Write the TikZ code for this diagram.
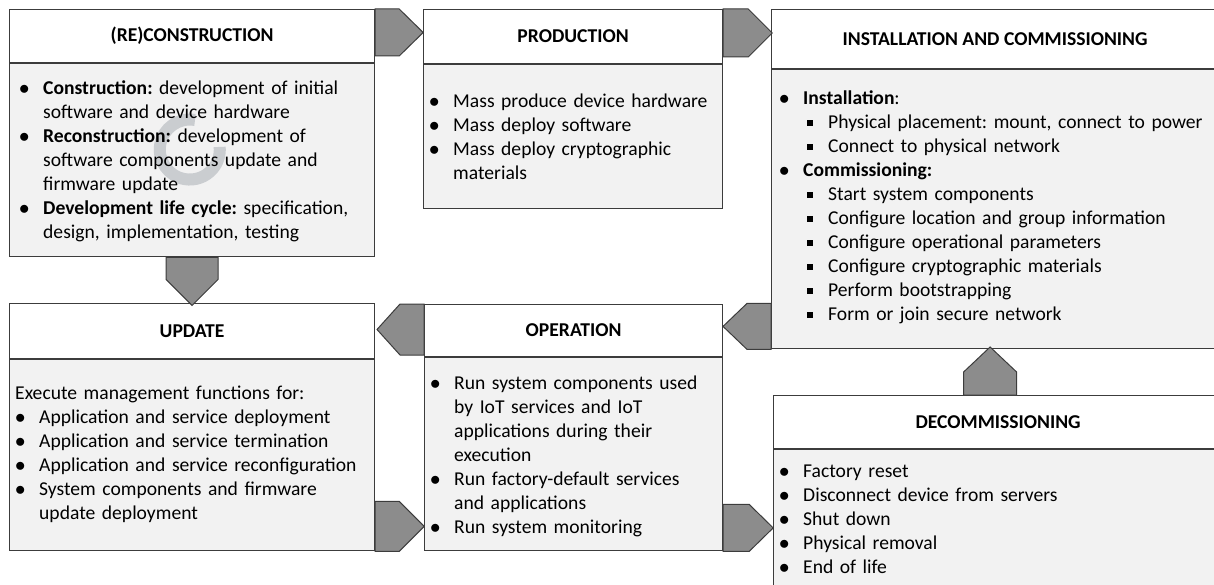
\documentclass[tikz,border=0pt]{standalone}
\usepackage{fontspec}
\setmainfont{Carlito}
\usepackage{enumitem}
\usetikzlibrary{positioning}

\definecolor{boxline}{HTML}{3C3C3C}
\definecolor{bodyfill}{HTML}{F2F2F2}
\definecolor{chevfill}{HTML}{8C8C8C}
\definecolor{wmark}{HTML}{CACDD0}

\frenchspacing
% bullets as in the stage boxes
\setlist[itemize,1]{nosep,label=$\bullet$,leftmargin=24pt,labelindent=0pt,labelwidth=24pt,labelsep=0pt,align=left}
\setlist[itemize,2]{nosep,label=\raisebox{0.3ex}{\rule{5.5pt}{5.5pt}},leftmargin=25pt,labelindent=4pt,labelwidth=21pt,labelsep=0pt,align=left}

\begin{document}
\begin{tikzpicture}[x=1pt,y=1pt,
  head/.style={draw=boxline,line width=1.2pt,fill=white,anchor=north west,inner sep=0pt,
    font=\fontsize{19.6pt}{24pt}\selectfont\bfseries},
  body/.style={draw=boxline,line width=1.2pt,fill=bodyfill,inner sep=0pt},
  txt/.style={anchor=north west,inner sep=0pt,align=left,
    font=\fontsize{19.6pt}{24pt}\selectfont},
  chev/.style={draw=boxline,line width=1pt,fill=chevfill,line join=miter}]
\useasboundingbox (0,0) rectangle (1214,-585);

% stage boxes: title part and list part
\node[head,minimum width=365,minimum height=53] (recon) at (9,-9) {(RE)CONSTRUCTION};
\node[body,minimum width=365,minimum height=193,below=0pt of recon] (recon-b) {};
\node[head,minimum width=299,minimum height=54] (prod) at (423,-9) {PRODUCTION};
\node[body,minimum width=299,minimum height=144,below=0pt of prod] (prod-b) {};
\node[head,minimum width=447,minimum height=59] (inst) at (771,-9) {INSTALLATION AND COMMISSIONING};
\node[body,minimum width=447,minimum height=279,below=0pt of inst] (inst-b) {};
\node[head,minimum width=365,minimum height=55] (upd) at (9,-303) {UPDATE};
\node[body,minimum width=365,minimum height=191,below=0pt of upd] (upd-b) {};
\node[head,minimum width=298,minimum height=52] (oper) at (424,-304) {OPERATION};
\node[body,minimum width=298,minimum height=193,below=0pt of oper] (oper-b) {};
\node[head,minimum width=449,minimum height=53] (decom) at (773,-395) {DECOMMISSIONING};
\node[body,minimum width=449,minimum height=180,below=0pt of decom] (decom-b) {};

% faint cycle mark behind the first list
\draw[wmark,line width=12pt] (195,-120) arc[start angle=80,end angle=365,radius=30];

% lists
\node[txt,text width=350,below right=7pt and 10pt of recon.south west] (recon-t) {%
\begin{itemize}
\item \textbf{Construction:} development of initial\newline software and device hardware
\item \textbf{Reconstruction:} development of\newline software components update and\newline firmware update
\item \textbf{Development life cycle:} specification,\newline design, implementation, testing
\end{itemize}};
\node[txt,text width=290,below right=19pt and 6pt of prod.south west] (prod-t) {%
\begin{itemize}
\item Mass produce device hardware
\item Mass deploy software
\item Mass deploy cryptographic\newline materials
\end{itemize}};
\node[txt,text width=436,below right=11pt and 8pt of inst.south west] (inst-t) {%
\begin{itemize}
\item \textbf{Installation}:
  \begin{itemize}
  \item Physical placement: mount, connect to power
  \item Connect to physical network
  \end{itemize}
\item \textbf{Commissioning:}
  \begin{itemize}
  \item Start system components
  \item Configure location and group information
  \item Configure operational parameters
  \item Configure cryptographic materials
  \item Perform bootstrapping
  \item Form or join secure network
  \end{itemize}
\end{itemize}};
\node[txt,text width=355,below right=27pt and 6pt of upd.south west] (upd-t) {%
Execute management functions for:
\begin{itemize}
\item Application and service deployment
\item Application and service termination
\item Application and service reconfiguration
\item System components and firmware\newline update deployment
\end{itemize}};
\node[txt,text width=290,below right=8pt and 6pt of oper.south west] (oper-t) {%
\begin{itemize}
\item Run system components used\newline by IoT services and IoT\newline applications during their\newline execution
\item Run factory-default services\newline and applications
\item Run system monitoring
\end{itemize}};
\node[txt,text width=436,below right=4pt and 6pt of decom.south west] (decom-t) {%
\begin{itemize}
\item Factory reset
\item Disconnect device from servers
\item Shut down
\item Physical removal
\item End of life
\end{itemize}};

% chevrons between the stages
\draw[chev] (recon.north east) -- ++(24,0) -- ++(24,-23.5) -- ++(-24,-23.5) -- ++(-24,0) -- cycle;
\draw[chev] (prod.north east) -- ++(25,0) -- ++(24,-24) -- ++(-24,-24) -- ++(-25,0) -- cycle;
\draw[chev] ([xshift=-26pt]recon-b.south) -- ++(52,0) -- ++(0,-22) -- ++(-26,-26) -- ++(-26,26) -- cycle;
\draw[chev] (inst-b.south west) -- ++(0,46) -- ++(-24,0) -- ++(-24,-23) -- ++(24,-23) -- cycle;
\draw[chev] (oper.north west) -- ++(-24,0) -- ++(-23,-25.5) -- ++(23,-25.5) -- ++(24,0) -- cycle;
\draw[chev] (upd-b.south east) -- ++(0,50) -- ++(24,0) -- ++(25,-25) -- ++(-25,-25) -- cycle;
\draw[chev] (oper-b.south east) -- ++(0,47) -- ++(26,0) -- ++(24,-23.5) -- ++(-24,-23.5) -- cycle;
\draw[chev] ([xshift=-34.5pt]decom.north) -- ++(0,23) -- ++(26.5,25) -- ++(26.5,-25) -- ++(0,-23) -- cycle;
\end{tikzpicture}
\end{document}
